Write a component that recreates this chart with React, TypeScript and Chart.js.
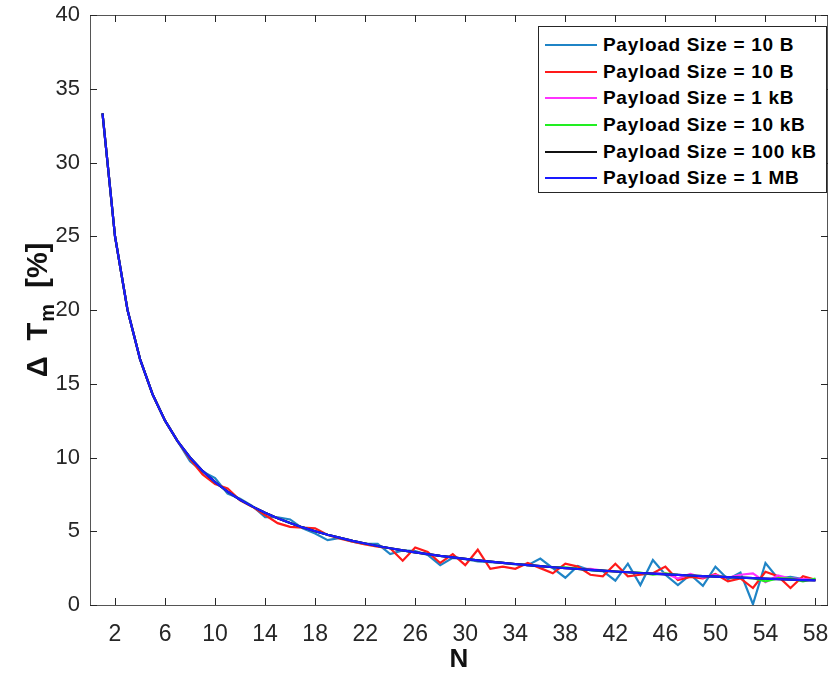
import React, { useEffect, useRef } from "react";
import { Chart, registerables } from "chart.js";
Chart.register(...registerables);

const nValues = [1, 2, 3, 4, 5, 6, 7, 8, 9, 10, 11, 12, 13, 14, 15, 16, 17, 18, 19, 20, 21, 22, 23, 24, 25, 26, 27, 28, 29, 30, 31, 32, 33, 34, 35, 36, 37, 38, 39, 40, 41, 42, 43, 44, 45, 46, 47, 48, 49, 50, 51, 52, 53, 54, 55, 56, 57, 58];

const payload10B_a = [33.33, 25.0, 20.0, 16.67, 14.29, 12.5, 11.11, 9.75, 9.05, 8.6, 7.55, 7.2, 6.7, 5.95, 5.95, 5.8, 5.2, 4.85, 4.4, 4.55, 4.3, 4.15, 4.15, 3.45, 3.7, 3.65, 3.4, 2.7, 3.2, 3.1, 2.95, 2.9, 2.85, 2.75, 2.7, 3.15, 2.5, 1.85, 2.65, 2.35, 2.3, 1.65, 2.8, 1.35, 3.05, 2.05, 1.35, 2.05, 1.3, 2.6, 1.75, 2.2, 0.05, 2.85, 1.8, 1.9, 1.75, 1.7];
const payload10B_b = [33.33, 25.0, 20.0, 16.67, 14.29, 12.5, 11.11, 9.9, 8.85, 8.2, 7.9, 7.1, 6.65, 6.1, 5.55, 5.3, 5.25, 5.2, 4.75, 4.5, 4.3, 4.1, 3.95, 3.85, 3.0, 3.9, 3.6, 2.85, 3.45, 2.7, 3.75, 2.45, 2.6, 2.45, 2.85, 2.5, 2.15, 2.8, 2.6, 2.05, 1.95, 2.8, 1.95, 2.05, 2.15, 2.6, 1.7, 1.9, 1.8, 2.1, 1.6, 1.8, 1.15, 2.25, 1.95, 1.15, 1.95, 1.7];
const payload1kB = [33.33, 25.0, 20.0, 16.67, 14.29, 12.5, 11.11, 10.0, 9.09, 8.33, 7.69, 7.14, 6.67, 6.25, 5.88, 5.56, 5.26, 5.0, 4.76, 4.55, 4.35, 4.17, 4.0, 3.85, 3.7, 3.57, 3.45, 3.33, 3.23, 3.13, 3.03, 2.94, 2.86, 2.78, 2.7, 2.63, 2.56, 2.5, 2.44, 2.45, 2.33, 2.27, 2.22, 2.17, 2.13, 2.15, 1.8, 2.1, 1.85, 2.05, 1.85, 2.05, 2.15, 1.55, 2.0, 1.8, 1.75, 1.7];
const payload10kB = [33.33, 25.0, 20.0, 16.67, 14.29, 12.5, 11.11, 10.0, 9.09, 8.33, 7.69, 7.14, 6.67, 6.25, 5.88, 5.56, 5.26, 5.0, 4.76, 4.55, 4.35, 4.17, 4.0, 3.85, 3.7, 3.57, 3.45, 3.33, 3.23, 3.13, 3.03, 2.94, 2.86, 2.78, 2.7, 2.63, 2.56, 2.55, 2.45, 2.38, 2.33, 2.27, 2.22, 2.2, 2.05, 2.15, 2.04, 2.0, 1.96, 1.95, 1.89, 1.85, 1.82, 1.6, 1.8, 1.8, 1.6, 1.8];
const payload100kB = [33.33, 25.0, 20.0, 16.67, 14.29, 12.5, 11.11, 10.0, 9.09, 8.33, 7.69, 7.14, 6.67, 6.25, 5.88, 5.56, 5.26, 5.0, 4.76, 4.55, 4.35, 4.17, 4.0, 3.85, 3.7, 3.57, 3.45, 3.33, 3.23, 3.13, 3.03, 2.94, 2.86, 2.78, 2.7, 2.63, 2.56, 2.5, 2.44, 2.38, 2.33, 2.27, 2.22, 2.17, 2.13, 2.08, 2.04, 2.0, 1.96, 1.92, 1.89, 1.85, 1.82, 1.79, 1.75, 1.72, 1.69, 1.67];
const payload1MB = [33.33, 25.0, 20.0, 16.67, 14.29, 12.5, 11.11, 10.0, 9.09, 8.33, 7.69, 7.14, 6.67, 6.25, 5.88, 5.56, 5.26, 5.0, 4.76, 4.55, 4.35, 4.17, 4.0, 3.85, 3.7, 3.57, 3.45, 3.33, 3.23, 3.13, 3.03, 2.94, 2.86, 2.78, 2.7, 2.63, 2.56, 2.5, 2.44, 2.38, 2.33, 2.27, 2.22, 2.17, 2.13, 2.08, 2.04, 2.0, 1.96, 1.92, 1.89, 1.85, 1.82, 1.79, 1.75, 1.72, 1.69, 1.67];

const seriesLabels = [
  "Payload Size = 10 B",
  "Payload Size = 10 B",
  "Payload Size = 1 kB",
  "Payload Size = 10 kB",
  "Payload Size = 100 kB",
  "Payload Size = 1 MB",
];
const seriesValues = [payload10B_a, payload10B_b, payload1kB, payload10kB, payload100kB, payload1MB];
const seriesColors = ["#1f84c6", "#ff1a1a", "#ff33ff", "#22ee22", "#111111", "#1a1aff"];

const xTickValues = [2, 6, 10, 14, 18, 22, 26, 30, 34, 38, 42, 46, 50, 54, 58];
const yTickValues = [0, 5, 10, 15, 20, 25, 30, 35, 40];

const AXIS_COLOR = "#262626";

const framePlugin = {
  id: "frame",
  afterDraw(chart: any) {
    const { ctx, chartArea } = chart;
    const { left, right, top, bottom } = chartArea;
    const xs = chart.scales.x;
    const ys = chart.scales.y;
    ctx.save();
    ctx.strokeStyle = "#555";
    ctx.lineWidth = 1;
    ctx.beginPath();
    ctx.rect(Math.round(left) + 0.5, Math.round(top) + 0.5, Math.round(right - left) - 1, Math.round(bottom - top));
    ctx.stroke();
    ctx.strokeStyle = AXIS_COLOR;
    ctx.beginPath();
    const tl = 7;
    xs.ticks.forEach((t: any) => {
      const px = Math.round(xs.getPixelForValue(t.value)) + 0.5;
      ctx.moveTo(px, bottom);
      ctx.lineTo(px, bottom - tl);
      ctx.moveTo(px, top);
      ctx.lineTo(px, top + tl);
    });
    ys.ticks.forEach((t: any) => {
      const py = Math.round(ys.getPixelForValue(t.value)) + 0.5;
      ctx.moveTo(left, py);
      ctx.lineTo(left + tl, py);
      ctx.moveTo(right, py);
      ctx.lineTo(right - tl, py);
    });
    ctx.stroke();

    // y-axis title with subscript
    const cy = (top + bottom) / 2;
    ctx.translate(37, cy);
    ctx.rotate(-Math.PI / 2);
    ctx.fillStyle = "#111";
    ctx.textBaseline = "alphabetic";
    const big = "bold 29px 'Liberation Sans', Arial, sans-serif";
    const small = "bold 20px 'Liberation Sans', Arial, sans-serif";
    const p1 = "\u0394  T";
    const p2 = "m";
    const p3 = "  [%]";
    ctx.font = big;
    const w1 = ctx.measureText(p1).width;
    const w3 = ctx.measureText(p3).width;
    ctx.font = small;
    const w2 = ctx.measureText(p2).width;
    const total = w1 + w2 + w3 + 1;
    let x0 = -total / 2;
    ctx.font = big;
    ctx.fillText(p1, x0, 10);
    x0 += w1 + 1;
    ctx.font = small;
    ctx.fillText(p2, x0, 17);
    x0 += w2;
    ctx.font = big;
    ctx.fillText(p3, x0, 10);
    ctx.restore();
  },
};

export default function App() {
  const canvasRef = useRef<HTMLCanvasElement | null>(null);

  useEffect(() => {
    if (!canvasRef.current) return;
    const datasets = seriesValues.map((vals, i) => ({
      label: seriesLabels[i],
      data: vals.map((v, j) => ({ x: nValues[j], y: v })),
      borderColor: seriesColors[i],
      backgroundColor: seriesColors[i],
      borderWidth: 2.2,
      pointRadius: 0,
      tension: 0,
      fill: false,
      order: seriesValues.length - 1 - i,
    }));
    const chart = new Chart(canvasRef.current, {
      type: "line",
      data: { datasets },
      plugins: [framePlugin],
      options: {
        animation: false,
        responsive: false,
        devicePixelRatio: 1,
        layout: { padding: { top: 15, right: 2, left: 0, bottom: 0 } },
        plugins: {
          legend: { display: false },
          tooltip: { enabled: false },
        },
        scales: {
          x: {
            type: "linear",
            min: 0,
            max: 59,
            grid: { display: false, drawTicks: false },
            border: { display: false },
            afterBuildTicks: (scale: any) => {
              scale.ticks = xTickValues.map((v) => ({ value: v }));
            },
            afterFit: (scale: any) => {
              scale.height = 70;
              scale.paddingLeft = 0;
              scale.paddingRight = 0;
            },
            ticks: {
              autoSkip: false,
              maxRotation: 0,
              padding: 16,
              color: AXIS_COLOR,
              font: { family: "'Liberation Sans Narrow', 'Liberation Sans', Arial, sans-serif", size: 23 },
            },
            title: {
              display: true,
              text: "N",
              color: "#111",
              padding: { top: 0, bottom: 0 },
              font: { family: "'Liberation Sans', Arial, sans-serif", size: 26, weight: "bold" },
            },
          },
          y: {
            type: "linear",
            min: 0,
            max: 40,
            grid: { display: false, drawTicks: false },
            border: { display: false },
            afterBuildTicks: (scale: any) => {
              scale.ticks = yTickValues.map((v) => ({ value: v }));
            },
            afterFit: (scale: any) => {
              scale.width = 90;
              scale.paddingTop = 0;
              scale.paddingBottom = 0;
            },
            ticks: {
              padding: 10,
              color: AXIS_COLOR,
              font: { family: "'Liberation Sans', Arial, sans-serif", size: 22 },
            },
          },
        },
      },
    } as any);
    return () => chart.destroy();
  }, []);

  return (
    <div style={{ position: "absolute", left: 0, top: 0, width: 830, height: 675, background: "#fff" }}>
      <canvas ref={canvasRef} width={830} height={675} style={{ display: "block" }} />
      <div
        style={{
          position: "absolute",
          left: 538,
          top: 26,
          width: 289,
          height: 167,
          boxSizing: "border-box",
          border: "1px solid #262626",
          background: "#fff",
          paddingTop: 5,
        }}
      >
        {seriesLabels.map((lab, i) => (
          <div key={i} style={{ display: "flex", alignItems: "center", height: 26.6 }}>
            <span style={{ display: "inline-block", marginLeft: 6, width: 52, height: 2, background: seriesColors[i] }} />
            <span
              style={{
                marginLeft: 6,
                fontFamily: "'Liberation Sans', Arial, sans-serif",
                fontWeight: "bold",
                fontSize: 19,
                letterSpacing: 0.7,
                color: "#000",
                whiteSpace: "nowrap",
              }}
            >
              {lab}
            </span>
          </div>
        ))}
      </div>
    </div>
  );
}
